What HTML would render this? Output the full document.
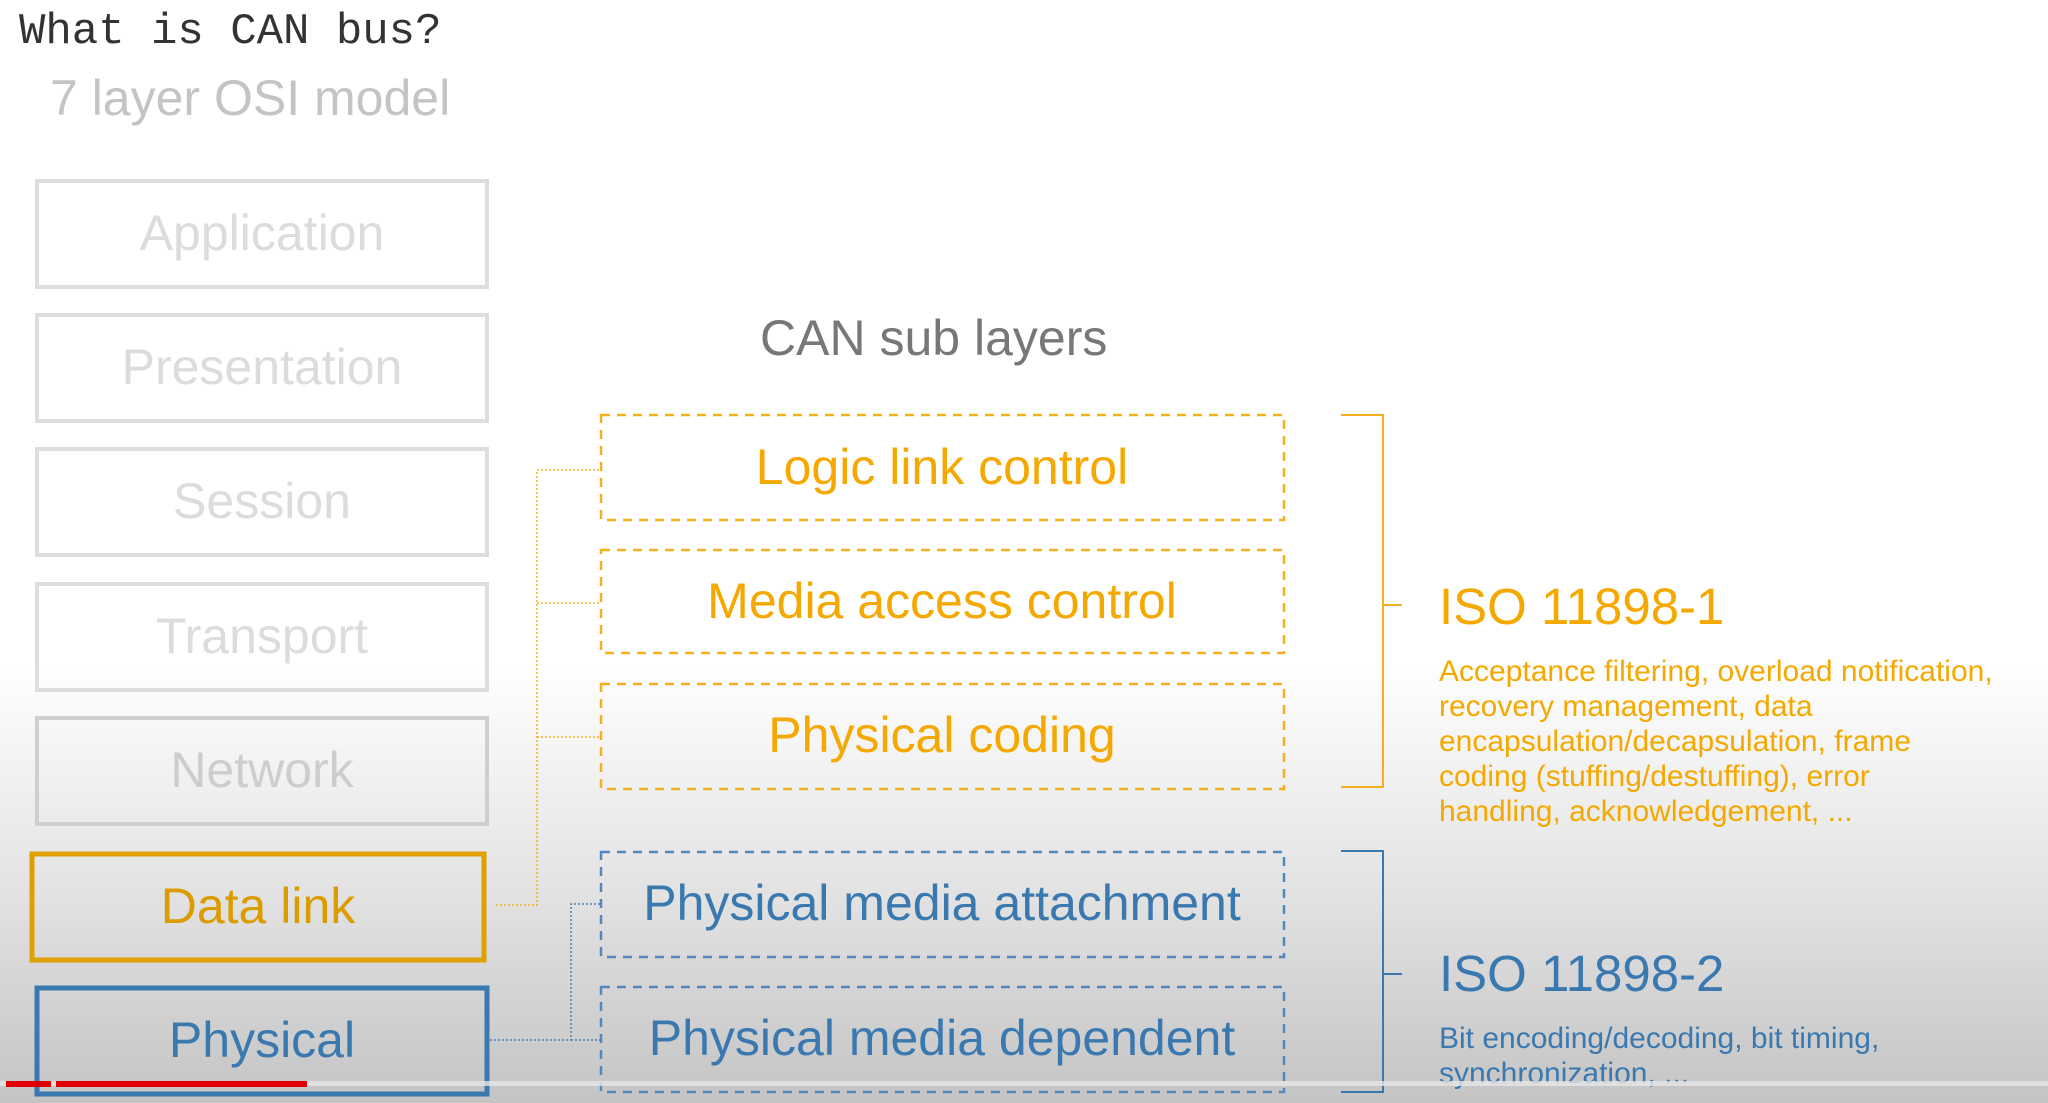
<!DOCTYPE html>
<html><head><meta charset="utf-8"><style>
html,body{margin:0;padding:0;}
body{width:2048px;height:1103px;overflow:hidden;}
svg{display:block;}
</style></head><body>
<svg width="2048" height="1103" viewBox="0 0 2048 1103" xmlns="http://www.w3.org/2000/svg">
<defs>
<linearGradient id="bg" x1="0" y1="0" x2="0" y2="1">
<stop offset="0" stop-color="#ffffff"/>
<stop offset="0.6" stop-color="#ffffff"/>
<stop offset="0.8" stop-color="#e4e4e4"/>
<stop offset="1" stop-color="#c4c4c4"/>
</linearGradient>
</defs>
<rect width="2048" height="1103" fill="url(#bg)"/>
<g font-family="Liberation Sans, sans-serif">
<text x="19" y="43" font-family="Liberation Mono, monospace" font-size="44" fill="#333">What is CAN bus?</text>
<text x="50" y="115" font-size="50" fill="#c4c4c4">7 layer OSI model</text>

<g fill="none" stroke="#dedede" stroke-width="4">
<rect x="37" y="181" width="450" height="106"/>
<rect x="37" y="315" width="450" height="106"/>
<rect x="37" y="449" width="450" height="106"/>
<rect x="37" y="584" width="450" height="106"/>
<rect x="37" y="718" width="450" height="106" stroke="#cfcfcf"/>
</g>
<g font-size="50" fill="#dcdcdc" text-anchor="middle">
<text x="262" y="250">Application</text>
<text x="262" y="384">Presentation</text>
<text x="262" y="518">Session</text>
<text x="262" y="653">Transport</text>
<text x="262" y="787" fill="#cdcdcd">Network</text>
</g>
<rect x="32" y="854" width="452" height="106" fill="none" stroke="#e0a000" stroke-width="5"/>
<text x="258" y="923" font-size="50" fill="#dc9c00" text-anchor="middle">Data link</text>
<rect x="37" y="988" width="450" height="106" fill="none" stroke="#3a78b0" stroke-width="5"/>
<text x="262" y="1057" font-size="50" fill="#3a78b0" text-anchor="middle">Physical</text>

<text x="760" y="355" font-size="50" fill="#777">CAN sub layers</text>

<g fill="none" stroke="#f5b020" stroke-width="2.5" stroke-dasharray="9,7">
<rect x="601" y="415" width="683" height="105"/>
<rect x="601" y="550" width="683" height="103"/>
<rect x="601" y="684" width="683" height="105"/>
</g>
<g fill="none" stroke="#5288bd" stroke-width="2.5" stroke-dasharray="9,7">
<rect x="601" y="852" width="683" height="105"/>
<rect x="601" y="987" width="683" height="105"/>
</g>
<g font-size="50" text-anchor="middle">
<text x="942" y="484" fill="#f5a800">Logic link control</text>
<text x="942" y="618" fill="#f5a800">Media access control</text>
<text x="942" y="752" fill="#f5a800">Physical coding</text>
<text x="942" y="920" fill="#3a78b0">Physical media attachment</text>
<text x="942" y="1055" fill="#3a78b0">Physical media dependent</text>
</g>

<g fill="none" stroke="#f5b020" stroke-width="1.5" stroke-dasharray="2,2">
<path d="M496 905 H537 V470 H601 M537 603 H601 M537 737 H601"/>
</g>
<g fill="none" stroke="#4a80b8" stroke-width="1.5" stroke-dasharray="2,2">
<path d="M490 1040 H571 V904 H601 M571 1040 H601"/>
</g>

<g fill="none" stroke="#f5b020" stroke-width="2">
<path d="M1341 415 H1383 V787 H1341 M1383 605 H1402"/>
</g>
<g fill="none" stroke="#3a78b0" stroke-width="2">
<path d="M1341 851 H1383 V1092 H1341 M1383 974 H1402"/>
</g>

<text x="1439" y="624" font-size="51" fill="#f5a800">ISO 11898-1</text>
<g font-size="30" fill="#f5a800">
<text x="1439" y="681">Acceptance filtering, overload notification,</text>
<text x="1439" y="716">recovery management, data</text>
<text x="1439" y="751">encapsulation/decapsulation, frame</text>
<text x="1439" y="786">coding (stuffing/destuffing), error</text>
<text x="1439" y="821">handling, acknowledgement, ...</text>
</g>
<text x="1439" y="991" font-size="51" fill="#3a78b0">ISO 11898-2</text>
<g font-size="30" fill="#3a78b0">
<text x="1439" y="1048">Bit encoding/decoding, bit timing,</text>
<text x="1439" y="1083">synchronization, ...</text>
</g>
</g>
<rect x="0" y="1081" width="2048" height="5" fill="#e6e6e6" opacity="0.8"/>
<rect x="6" y="1081" width="45" height="6" fill="#e00000"/>
<rect x="56" y="1081" width="251" height="6" fill="#e00000"/>
</svg>
</body></html>
